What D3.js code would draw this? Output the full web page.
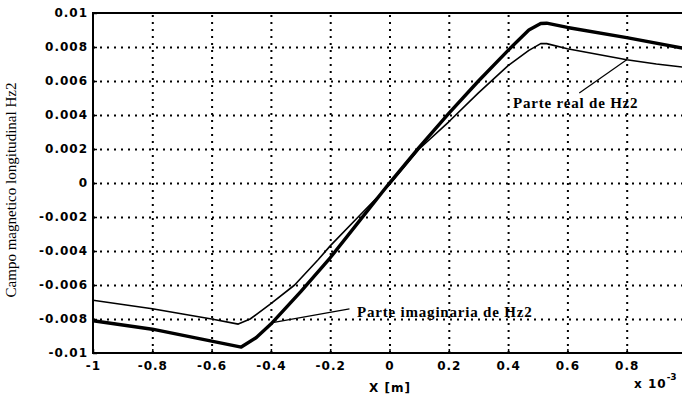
<!DOCTYPE html>
<html lang="es">
<head>
<meta charset="UTF-8">
<title>Campo magnetico longitudinal Hz2</title>
<script src="https://d3js.org/d3.v7.min.js"></script>
<style>
    body { margin: 0; background: #fff; }
    .tick text { font-family: "DejaVu Sans", sans-serif; font-weight: bold; font-size: 12px; letter-spacing: 1px; fill: #000; }
    .grid line { stroke: #000; stroke-width: 2; stroke-dasharray: 2,5; }
    .grid path { display: none; }
    .note { font-family: "Liberation Serif", "Times New Roman", serif; font-weight: bold; font-size: 15px; letter-spacing: 0.8px; }
</style>
</head>
<body>
<svg width="682" height="397"></svg>
<script>
// x in metres (x 10^-3), values of Hz2
const xTicks = [-1, -0.8, -0.6, -0.4, -0.2, 0, 0.2, 0.4, 0.6, 0.8];
const xTickLabels = ["-1", "-0.8", "-0.6", "-0.4", "-0.2", "0", "0.2", "0.4", "0.6", "0.8"];
const yTicks = [-0.01, -0.008, -0.006, -0.004, -0.002, 0, 0.002, 0.004, 0.006, 0.008, 0.01];
const yTickLabels = ["-0.01", "-0.008", "-0.006", "-0.004", "-0.002", "0", "0.002", "0.004", "0.006", "0.008", "0.01"];

const xReal = [-1, -0.8, -0.6, -0.51, -0.47, -0.4, -0.32, -0.24, -0.2, -0.1, 0, 0.1, 0.2, 0.3, 0.4, 0.47, 0.51, 0.53, 0.6, 0.8, 0.9, 1];
const parteReal = [-0.0069, -0.0074, -0.008, -0.0083, -0.008, -0.0071, -0.006, -0.0045, -0.0037, -0.0019, -0.0001, 0.002, 0.0036, 0.0053, 0.0069, 0.0078, 0.0082, 0.0082, 0.0079, 0.00725, 0.007, 0.0068];

const xImag = [-1, -0.8, -0.6, -0.5, -0.45, -0.4, -0.3, -0.2, -0.1, 0, 0.1, 0.2, 0.3, 0.4, 0.47, 0.51, 0.53, 0.6, 0.8, 1];
const parteImag = [-0.0081, -0.0086, -0.0093, -0.00965, -0.0091, -0.0083, -0.0064, -0.0044, -0.0022, 0, 0.0021, 0.0041, 0.006, 0.0078, 0.009, 0.00938, 0.0094, 0.00915, 0.00855, 0.0079];

const svg = d3.select("svg");
const pLeft = 93, pRight = 686, pTop = 13, pBottom = 353;

const x = d3.scaleLinear().domain([-1, 1]).range([pLeft, pRight]);
const y = d3.scaleLinear().domain([-0.01, 0.01]).range([pBottom, pTop]);

// dotted grid
svg.append("g")
    .attr("class", "grid")
    .attr("transform", "translate(0," + pBottom + ")")
    .call(d3.axisBottom(x).tickValues(xTicks.slice(1)).tickSize(-(pBottom - pTop)).tickFormat(""));
svg.append("g")
    .attr("class", "grid")
    .attr("transform", "translate(" + pLeft + ",0)")
    .call(d3.axisLeft(y).tickValues(yTicks.slice(1, -1)).tickSize(-(pRight - pLeft)).tickFormat(""));

// frame
svg.append("rect")
    .attr("x", pLeft).attr("y", pTop)
    .attr("width", pRight - pLeft).attr("height", pBottom - pTop)
    .attr("fill", "none").attr("stroke", "#000").attr("stroke-width", 2);

// axes
const xAxis = svg.append("g")
    .attr("transform", "translate(0," + pBottom + ")")
    .call(d3.axisBottom(x).tickValues(xTicks).tickSize(-4).tickPadding(8)
        .tickFormat((d, i) => xTickLabels[i]));
xAxis.select(".domain").remove();
xAxis.selectAll(".tick line").attr("stroke", "#000").attr("stroke-width", 1.5);

const yAxis = svg.append("g")
    .attr("transform", "translate(" + pLeft + ",0)")
    .call(d3.axisLeft(y).tickValues(yTicks).tickSize(-4).tickPadding(5)
        .tickFormat((d, i) => yTickLabels[i]));
yAxis.select(".domain").remove();
yAxis.selectAll(".tick line").attr("stroke", "#000").attr("stroke-width", 1.5);

// curves
svg.append("clipPath").attr("id", "plot")
    .append("rect").attr("x", pLeft).attr("y", pTop).attr("width", pRight - pLeft).attr("height", pBottom - pTop);

const lineReal = d3.line().x((d, i) => x(xReal[i])).y(d => y(d));
const lineImag = d3.line().x((d, i) => x(xImag[i])).y(d => y(d));

svg.append("path")
    .datum(parteReal)
    .attr("clip-path", "url(#plot)")
    .attr("fill", "none").attr("stroke", "#000").attr("stroke-width", 1.6)
    .attr("stroke-linejoin", "round")
    .attr("d", lineReal);

svg.append("path")
    .datum(parteImag)
    .attr("clip-path", "url(#plot)")
    .attr("fill", "none").attr("stroke", "#000").attr("stroke-width", 3.4)
    .attr("stroke-linejoin", "round")
    .attr("d", lineImag);

// annotations
svg.append("line")
    .attr("x1", x(0.64)).attr("y1", y(0.0053))
    .attr("x2", x(0.8)).attr("y2", y(0.00725))
    .attr("stroke", "#000").attr("stroke-width", 1.2);
svg.append("text").attr("class", "note")
    .attr("x", 513).attr("y", 108)
    .text("Parte real de Hz2");

svg.append("line")
    .attr("x1", x(-0.135)).attr("y1", y(-0.0074))
    .attr("x2", x(-0.39)).attr("y2", y(-0.0082))
    .attr("stroke", "#000").attr("stroke-width", 1.2);
svg.append("text").attr("class", "note")
    .attr("x", 357).attr("y", 317)
    .text("Parte imaginaria de Hz2");

// axis titles
svg.append("text")
    .attr("x", 390).attr("y", 392)
    .attr("text-anchor", "middle")
    .style("font-family", "DejaVu Sans, sans-serif").style("font-weight", "bold")
    .style("font-size", "12px").style("letter-spacing", "1px")
    .text("X [m]");

const mult = svg.append("text")
    .attr("x", 634).attr("y", 388)
    .style("font-family", "DejaVu Sans, sans-serif").style("font-weight", "bold")
    .style("font-size", "12px").style("letter-spacing", "1px");
mult.append("tspan").text("x 10");
mult.append("tspan").attr("dy", -8).style("font-size", "9px").style("letter-spacing", "0px").text("-3");

svg.append("text")
    .attr("transform", "translate(16,190) rotate(-90)")
    .attr("text-anchor", "middle")
    .attr("textLength", 215).attr("lengthAdjust", "spacingAndGlyphs")
    .style("font-family", "Liberation Serif, Times New Roman, serif")
    .style("font-size", "15px")
    .text("Campo magnetico longitudinal Hz2");
</script>
</body>
</html>
